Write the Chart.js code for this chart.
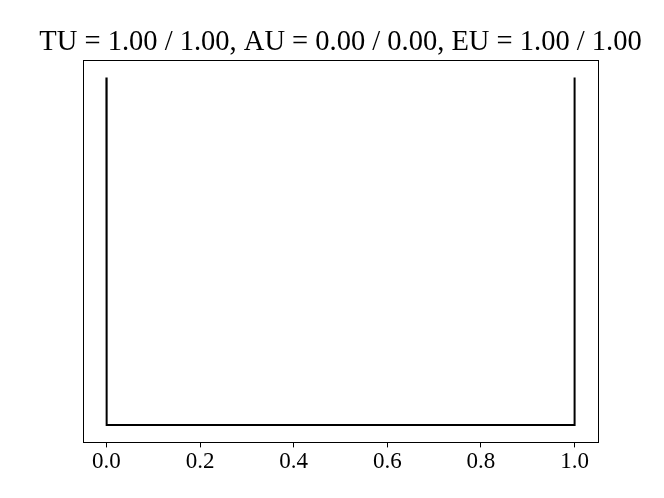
<!DOCTYPE html>
<html>
<head>
<meta charset="utf-8">
<script src="https://cdn.jsdelivr.net/npm/chart.js@4/dist/chart.umd.min.js"></script>
<style>
  html, body { margin: 0; padding: 0; background: #fff; }
  #wrap { width: 664px; height: 498px; }
</style>
</head>
<body>
<div id="wrap"><canvas id="chart" width="664" height="498"></canvas></div>
<script>
// values
const titleText = 'TU = 1.00 / 1.00, AU = 0.00 / 0.00, EU = 1.00 / 1.00';
const xValues = [0, 0.0005, 0.9995, 1];
const density = [1, 0, 0, 1];
const xTicks = [0, 0.2, 0.4, 0.6, 0.8, 1.0];

const serif = '"Liberation Serif", "DejaVu Serif", serif';

// box around the plot area plus a title centred over it (wider than the box)
const frame = {
    id: 'frame',
    afterDraw(chart) {
        const a = chart.chartArea, c = chart.ctx;
        c.save();
        c.strokeStyle = '#000';
        c.lineWidth = 1;
        c.strokeRect(Math.round(a.left) + 0.5, Math.round(a.top) + 0.5,
            Math.round(a.right - a.left), Math.round(a.bottom - a.top));
        c.fillStyle = '#000';
        c.font = '28.5px ' + serif;
        c.textAlign = 'center';
        c.textBaseline = 'alphabetic';
        c.fillText(titleText, (a.left + a.right) / 2, a.top - 10);
        c.restore();
    }
};

new Chart(document.getElementById('chart'), {
    type: 'line',
    data: {
        datasets: [{
            data: xValues.map((x, i) => ({ x, y: density[i] })),
            borderColor: '#000',
            borderWidth: 2,
            pointRadius: 0,
            tension: 0,
            fill: false
        }]
    },
    options: {
        responsive: false,
        animation: false,
        layout: { padding: { left: 83, right: 66, top: 60, bottom: 21 } },
        plugins: {
            legend: { display: false },
            tooltip: { enabled: false },
            title: { display: false }
        },
        scales: {
            x: {
                type: 'linear',
                min: -0.05,
                max: 1.05,
                afterBuildTicks: (s) => { s.ticks = xTicks.map(v => ({ value: v })); },
                grid: { display: true, drawOnChartArea: false, drawTicks: true, tickLength: 5, color: '#000' },
                border: { display: false },
                ticks: {
                    color: '#000',
                    padding: 1,
                    maxRotation: 0,
                    font: { family: serif, size: 23 },
                    callback: (v) => Number(v).toFixed(1)
                }
            },
            y: {
                type: 'linear',
                min: -0.05,
                max: 1.05,
                display: false
            }
        }
    },
    plugins: [frame]
});
</script>
</body>
</html>
